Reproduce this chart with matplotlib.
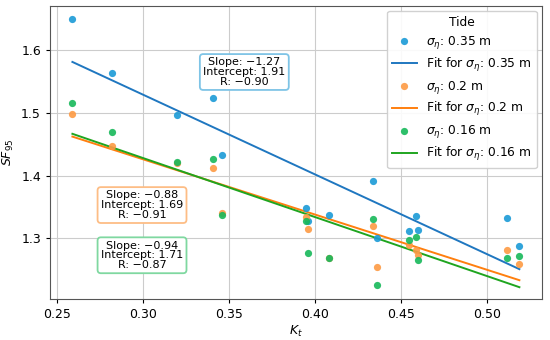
import numpy as np
from matplotlib import pyplot as plt

# K_t values shared by the three tide cases
kt = [0.259, 0.282, 0.320, 0.341, 0.346, 0.395, 0.396, 0.408,
      0.434, 0.436, 0.455, 0.459, 0.460, 0.512, 0.519]

sf_035 = [1.649, 1.564, 1.496, 1.523, 1.433, 1.349, 1.328, 1.337,
          1.392, 1.301, 1.312, 1.335, 1.313, 1.333, 1.287]
sf_020 = [1.498, 1.447, 1.420, 1.412, 1.340, 1.334, 1.315, 1.268,
          1.320, 1.254, 1.289, 1.281, 1.274, 1.281, 1.259]
sf_016 = [1.515, 1.470, 1.422, 1.426, 1.337, 1.328, 1.276, 1.268,
          1.330, 1.225, 1.297, 1.302, 1.266, 1.269, 1.272]

labels = ["0.35", "0.2", "0.16"]
slopes = [-1.27, -0.88, -0.94]
intercepts = [1.91, 1.69, 1.71]
r_values = [-0.90, -0.91, -0.87]
box_pos = [(0.359, 1.565), (0.2995, 1.353), (0.2995, 1.273)]

marker_colors = ['#1a9ad6', '#fd9a43', '#17b85a']
line_colors = ['#1f77c0', '#ff7f0e', '#1fa51f']
box_colors = ['#7ec4e6', '#fdbd85', '#7fd8a0']

fig, ax = plt.subplots(figsize = (5.5, 3.4), dpi = 100)
fig.subplots_adjust(left = 0.091, right = 0.985, top = 0.982, bottom = 0.12)

series = [sf_035, sf_020, sf_016]
x = np.array(kt)
xfit = np.array([min(kt), max(kt)])
for i, sf in enumerate(series):
  ax.scatter(x, sf, s = 27, color = marker_colors[i], alpha = 0.9, linewidths = 0,
             zorder = 3, label = r"$\sigma_\eta$: {} m".format(labels[i]))
  ax.plot(xfit, slopes[i] * xfit + intercepts[i], color = line_colors[i], lw = 1.4,
          zorder = 2, label = r"Fit for $\sigma_\eta$: {} m".format(labels[i]))
  txt = "Slope: {:.2f}\nIntercept: {:.2f}\nR: {:.2f}".format(
    slopes[i], intercepts[i], r_values[i]).replace('-', '\u2212')
  ax.text(box_pos[i][0], box_pos[i][1], txt, ha = 'center', va = 'center',
          fontsize = 8, linespacing = 0.95, zorder = 4,
          bbox = dict(boxstyle = 'round,pad=0.3', facecolor = 'white',
                      edgecolor = box_colors[i], linewidth = 1.3))

ax.set_xlim(0.246, 0.532)
ax.set_ylim(1.203, 1.670)
ax.set_xticks([0.25, 0.30, 0.35, 0.40, 0.45, 0.50])
ax.set_yticks([1.3, 1.4, 1.5, 1.6])
ax.tick_params(labelsize = 9, length = 3)
ax.grid(True, color = '#cccccc', lw = 0.8)
ax.set_axisbelow(True)
for sp in ax.spines.values():
  sp.set_color('#555555')

ax.set_xlabel(r"$K_t$", fontsize = 9, labelpad = 2)
ax.set_ylabel(r"$SF_{95}$", fontsize = 9, labelpad = 4)

leg = ax.legend(title = "Tide", loc = 'upper right', fontsize = 8.8,
                title_fontsize = 8.8, framealpha = 0.9, borderaxespad = 0.4,
                labelspacing = 0.4, handlelength = 2.0)

fig.savefig('out.png', dpi = 100)
